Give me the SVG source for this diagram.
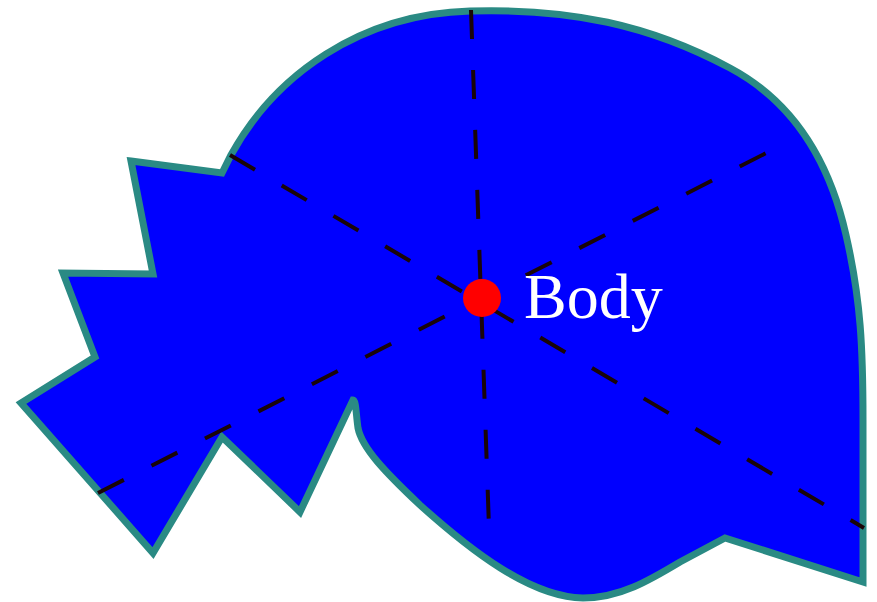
<svg xmlns="http://www.w3.org/2000/svg" width="877" height="602" viewBox="0 0 877 602">
<style>
.body{fill:#0000ff;stroke:#2a8a84;stroke-width:7;stroke-linejoin:miter;stroke-miterlimit:10}
.axis{fill:none;stroke:#1a0508;stroke-width:4;stroke-dasharray:29 31}
.lbl{font-family:"Liberation Serif","Times New Roman",serif;font-size:64px;fill:#ffffff}
</style>
<g id="shape">
<path class="body" d="M131,161 L222,173 L231,155 C275,75 360,14 470,11 C570,8 650,25 730,68 C790,100 828,155 846,235 C861,300 863,350 863,420 L863,582 L725,538 L680,562 C650,580 620,598 583,598 C530,597 470,550 420,505 C385,472 362,448 358,428 C356,414 356,400 353,400 L300,512 L222,437 L153,553 L21,403 L95,357 L63,273 L153,274 Z"/>
</g>
<g id="connectors">
<line class="axis" x1="471" y1="10" x2="489" y2="528"/>
<line class="axis" x1="230" y1="155" x2="864" y2="528"/>
<line class="axis" x1="98" y1="493" x2="778" y2="147"/>
</g>
<g id="center">
<circle cx="482" cy="298" r="19" fill="#ff0000"/>
<text class="lbl" x="524" y="318">Body</text>
</g>
</svg>
